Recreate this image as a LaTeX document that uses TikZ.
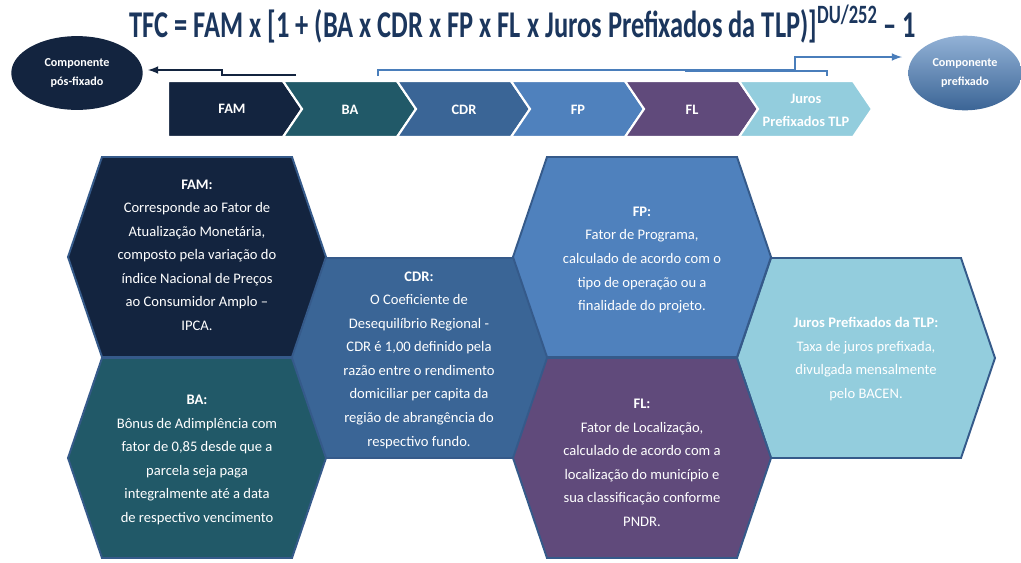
\documentclass[tikz,border=0pt]{standalone}
\usepackage{fontspec}
\setmainfont{Carlito}
\usetikzlibrary{shapes.geometric}
\tikzset{>=latex}
\definecolor{titleblue}{HTML}{1B365D}
\definecolor{navy}{HTML}{13243F}
\definecolor{teal}{HTML}{215968}
\definecolor{steel}{HTML}{3A6596}
\definecolor{midblue}{HTML}{4F81BD}
\definecolor{plum}{HTML}{604A7B}
\definecolor{sky}{HTML}{93CDDD}
\definecolor{hexline}{HTML}{355A8A}
\definecolor{linkblue}{HTML}{4A7EBB}
\tikzset{
    chev/.style={draw=white, line width=1.2pt},
    chevtxt/.style={text=white, align=center, font=\bfseries\fontsize{8.2}{13}\selectfont},
    hexcell/.style={draw=hexline, line width=1.1pt, line join=miter},
    hextxt/.style={text=white, align=center, font=\fontsize{8.3}{13.4}\selectfont},
    blob/.style={ellipse, inner sep=0pt, text=white, align=center, font=\bfseries\fontsize{6.9}{11.3}\selectfont}
}

\begin{document}
\begin{tikzpicture}[x=0.02cm, y=-0.02cm]
    \useasboundingbox (0,0) rectangle (1021,562);
    % formula
    \node[text=titleblue, xscale=0.70, transform shape, font=\bfseries\fontsize{21.5}{24}\selectfont] (formula) at (523,24)
        {TFC = FAM x [1 + (BA x CDR x FP x FL x Juros Prefixados da TLP)]\textsuperscript{DU/252} -- 1};
    % components
    \node[blob, fill=navy, minimum width=74.8pt, minimum height=42pt] (posfix) at (77,73) {Componente\\pós-fixado};
    \node[blob, top color=linkblue!60!white, bottom color=linkblue!80!black, minimum width=64.6pt, minimum height=42.5pt] (prefix) at (965,73) {Componente\\prefixado};
    % links
    \coordinate (famend) at (296,75);
    \coordinate (fixtip) at (148,70);
    \coordinate (brleft) at (378,76);
    \coordinate (brright) at (827,76);
    \coordinate (pretip) at (902,57);
    \draw[->, navy, line width=1pt] (famend) -- (222,75) -- (222,70) -- (fixtip);
    \draw[linkblue, line width=1pt] (brleft) -- (378,70) -- (795,70);
    \draw[linkblue, line width=1pt] (685,71) -- (827,71) -- (brright);
    \draw[->, linkblue, line width=1pt] (795,70) -- (795,57) -- (pretip);
    % chevrons
    \fill[chev, fill=navy] (168,81) -- (283,81) -- (302,109) -- (283,137) -- (168,137) -- cycle;
    \node[chevtxt] (chFAM) at (232,109) {FAM};
    \foreach \l/\r/\col/\nm/\txt in {283/397/teal/BA/BA, 397/511/steel/CDR/CDR, 511/625/midblue/FP/FP,
        625/739/plum/FL/FL, 739/853/sky/TLP/{Juros\\Prefixados TLP}}{
        \fill[chev, fill=\col] (\l,81) -- (\r,81) -- (\r+19,109) -- (\r,137) -- (\l,137) -- (\l+19,109) -- cycle;
        \node[chevtxt] (ch\nm) at ({(\l+\r)/2+10},110) {\txt};
    }
    % honeycomb
    \foreach \cx/\cy/\col in {419/358/steel, 866/358/sky, 197/257/navy, 197/458/teal, 642/257/midblue, 642/458/plum}{
        \filldraw[hexcell, fill=\col] (\cx-129,\cy) -- (\cx-95,\cy-100) -- (\cx+95,\cy-100)
            -- (\cx+129,\cy) -- (\cx+95,\cy+100) -- (\cx-95,\cy+100) -- cycle;
    }
    \node[hextxt] (hFAM) at (197,255) {\textbf{FAM:}\\Corresponde ao Fator de\\Atualização Monetária,\\composto pela variação do\\índice Nacional de Preços\\ao Consumidor Amplo --\\IPCA.};
    \node[hextxt] (hBA) at (197,460) {\textbf{BA:}\\Bônus de Adimplência com\\fator de 0,85 desde que a\\parcela seja paga\\integralmente até a data\\de respectivo vencimento};
    \node[hextxt] (hCDR) at (419,360) {\textbf{CDR:}\\O Coeficiente de\\Desequilíbrio Regional -\\CDR é 1,00 definido pela\\razão entre o rendimento\\domiciliar per capita da\\região de abrangência do\\respectivo fundo.};
    \node[hextxt] (hFP) at (642,260) {\textbf{FP:}\\Fator de Programa,\\calculado de acordo com o\\tipo de operação ou a\\finalidade do projeto.};
    \node[hextxt] (hFL) at (642,463) {\textbf{FL:}\\Fator de Localização,\\calculado de acordo com a\\localização do município e\\sua classificação conforme\\PNDR.};
    \node[hextxt] (hTLP) at (866,359) {\textbf{Juros Prefixados da TLP:}\\Taxa de juros prefixada,\\divulgada mensalmente\\pelo BACEN.};
\end{tikzpicture}
\end{document}
